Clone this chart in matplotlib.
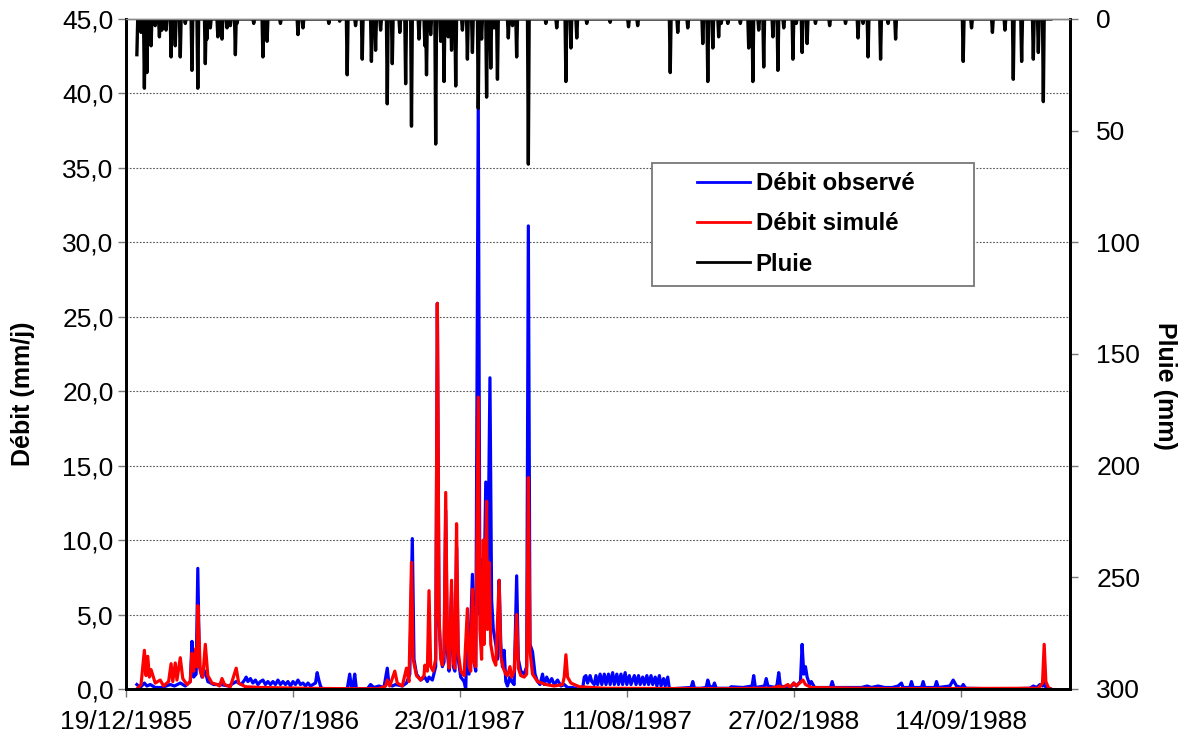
import numpy as np
import matplotlib
matplotlib.use("Agg")
import matplotlib.pyplot as plt
import matplotlib.dates as mdates
from matplotlib.patches import Rectangle
import datetime as dt

plt.rcParams['font.family'] = ['Liberation Sans', 'DejaVu Sans']

# days counted from 01/01/1986
start = dt.date(1986, 1, 1)
n_days = 1096

# simulated discharge (mm/j)
sim_day = [0, 5, 9, 11, 13, 15, 17, 22, 28, 32, 38, 41, 43, 46, 48, 52, 55, 60, 64, 66, 68, 71, 72, 73, 76, 79,
           82, 85, 90, 96, 99, 102, 105, 112, 119, 122, 130, 150, 200, 250, 290, 298, 300, 303, 309, 312, 318,
           323, 326, 329, 331, 335, 340, 344, 345, 348, 350, 352, 355, 358, 360, 362, 364, 366, 368, 370, 372,
           374, 377, 379, 381, 383, 385, 388, 392, 396, 398, 400, 402, 404, 406, 409, 411, 413, 415, 416, 419,
           420, 422, 424, 427, 430, 434, 436, 439, 442, 444, 447, 449, 452, 455, 457, 460, 464, 467, 469, 471,
           474, 480, 490, 500, 510, 512, 514, 516, 520, 530, 560, 700, 760, 770, 772, 780, 782, 787, 790, 798,
           801, 808, 900, 1080, 1085, 1087, 1089, 1092, 1095]
sim_q = [0.0, 0.3, 2.6, 0.9, 2.2, 0.8, 1.3, 0.4, 0.6, 0.2, 0.5, 1.7, 0.5, 1.75, 0.6, 2.1, 0.7, 0.3, 0.5, 2.4, 1.2,
         2.75, 1.5, 5.6, 1.2, 0.8, 3.0, 0.9, 0.4, 0.3, 0.2, 0.7, 0.3, 0.15, 1.4, 0.4, 0.15, 0.1, 0.05, 0.02, 0.02,
         0.2, 0.6, 0.2, 1.2, 0.4, 0.2, 1.4, 0.5, 8.5, 2.0, 0.9, 0.6, 0.9, 1.6, 1.2, 6.6, 1.5, 1.2, 2.0, 25.9, 5.0,
         2.0, 1.6, 2.5, 13.2, 3.0, 1.4, 7.3, 1.8, 1.4, 11.1, 2.5, 1.2, 0.9, 5.4, 1.5, 1.2, 6.7, 1.8, 1.5, 19.6,
         4.0, 2.0, 10.0, 3.0, 12.6, 4.0, 8.5, 3.0, 2.0, 1.6, 7.3, 2.2, 1.4, 1.0, 0.9, 1.5, 0.8, 1.2, 5.0, 1.4, 0.9,
         0.8, 1.0, 14.2, 2.5, 1.0, 0.5, 0.3, 0.2, 0.3, 0.8, 2.3, 0.8, 0.4, 0.15, 0.05, 0.02, 0.05, 0.2, 0.05, 0.3,
         0.1, 0.4, 0.2, 0.6, 0.3, 0.1, 0.02, 0.05, 0.4, 3.0, 0.5, 0.1, 0.0]

# observed discharge (mm/j)
obs_day = [0, 4, 9, 12, 16, 22, 30, 40, 45, 52, 58, 64, 66, 68, 71, 73, 75, 78, 82, 85, 92, 100, 110, 119, 125,
           129, 131, 133, 136, 139, 142, 145, 148, 151, 154, 157, 160, 163, 166, 169, 172, 175, 178, 181, 184,
           187, 190, 193, 196, 199, 202, 205, 208, 211, 214, 216, 218, 220, 222, 252, 255, 257, 259, 261, 263,
           276, 280, 284, 290, 296, 300, 302, 306, 310, 318, 323, 327, 330, 332, 335, 340, 345, 348, 350, 354,
           358, 360, 362, 364, 366, 368, 370, 372, 374, 377, 379, 381, 383, 385, 388, 392, 394, 396, 398, 402,
           404, 406, 409, 411, 413, 415, 418, 420, 423, 425, 427, 430, 432, 434, 436, 438, 440, 442, 444, 447,
           449, 452, 455, 457, 460, 464, 467, 469, 471, 474, 477, 480, 483, 486, 488, 491, 494, 497, 500, 504,
           508, 512, 516, 522, 528, 534, 536, 538, 540, 543, 545, 548, 550, 552, 555, 557, 560, 562, 565, 567,
           570, 572, 575, 577, 580, 582, 585, 587, 590, 592, 596, 598, 601, 603, 606, 608, 611, 613, 616, 618,
           621, 623, 626, 628, 631, 633, 636, 638, 650, 664, 666, 668, 676, 682, 684, 686, 690, 692, 694, 710,
           712, 726, 737, 739, 741, 752, 754, 756, 765, 767, 769, 771, 780, 785, 787, 790, 795, 797, 799, 801,
           803, 806, 808, 812, 820, 831, 833, 835, 860, 868, 875, 880, 888, 896, 905, 912, 916, 918, 926, 928,
           930, 940, 942, 944, 956, 958, 960, 974, 978, 982, 988, 990, 993, 1040, 1070, 1074, 1078, 1082, 1085,
           1087, 1089, 1095]
obs_q = [0.3, 0.1, 0.4, 0.2, 0.3, 0.1, 0.1, 0.3, 0.2, 0.4, 0.2, 0.5, 3.2, 0.8, 1.0, 8.1, 1.5, 0.8, 1.2, 0.5, 0.3,
         0.3, 0.2, 0.5, 0.3, 0.6, 0.8, 0.5, 0.7, 0.4, 0.6, 0.3, 0.5, 0.6, 0.3, 0.5, 0.3, 0.5, 0.3, 0.6, 0.3, 0.5,
         0.3, 0.5, 0.2, 0.5, 0.3, 0.6, 0.3, 0.4, 0.2, 0.4, 0.2, 0.3, 0.4, 1.1, 0.6, 0.2, 0.0, 0.0, 1.0, 0.1, 0.2,
         1.0, 0.0, 0.0, 0.3, 0.1, 0.2, 0.1, 1.4, 0.3, 0.2, 0.3, 0.2, 0.4, 1.0, 10.1, 2.0, 1.0, 0.6, 0.8, 0.5,
         0.8, 0.6, 1.5, 25.9, 4.5, 2.5, 1.5, 1.8, 12.0, 2.5, 1.2, 6.5, 1.5, 1.2, 9.5, 2.0, 0.8, 0.5, 0.0, 4.5,
         1.0, 7.7, 1.8, 1.2, 39.5, 5.0, 8.7, 3.0, 13.9, 5.0, 20.9, 6.0, 4.0, 3.0, 2.0, 7.3, 3.0, 1.5, 2.6, 0.5,
         0.2, 0.8, 0.5, 0.3, 7.6, 2.0, 1.2, 1.0, 1.5, 31.1, 3.0, 2.5, 1.0, 0.5, 0.3, 1.0, 0.3, 0.8, 0.4, 0.7,
         0.3, 0.6, 0.2, 0.3, 0.1, 0.1, 0.0, 0.0, 0.8, 0.9, 0.4, 0.9, 0.5, 0.3, 0.9, 0.3, 1.0, 0.3, 1.0, 0.3, 1.0,
         0.3, 1.1, 0.3, 1.0, 0.3, 1.0, 0.3, 1.1, 0.3, 0.9, 0.3, 0.9, 0.3, 0.9, 0.3, 0.8, 0.3, 0.9, 0.3, 0.9,
         0.3, 0.8, 0.2, 0.9, 0.2, 0.7, 0.2, 0.8, 0.0, 0.05, 0.1, 0.5, 0.05, 0.05, 0.1, 0.6, 0.2, 0.1, 0.4, 0.05,
         0.05, 0.15, 0.1, 0.2, 0.9, 0.1, 0.2, 0.7, 0.2, 0.1, 0.3, 1.1, 0.2, 0.1, 0.2, 0.4, 0.2, 0.5, 3.0, 1.0,
         1.5, 0.8, 0.3, 0.5, 0.1, 0.1, 0.1, 0.5, 0.1, 0.1, 0.1, 0.2, 0.1, 0.2, 0.1, 0.1, 0.2, 0.4, 0.1, 0.1,
         0.5, 0.1, 0.1, 0.5, 0.1, 0.1, 0.5, 0.1, 0.2, 0.6, 0.2, 0.1, 0.3, 0.05, 0.0, 0.05, 0.2, 0.1, 0.3, 0.2,
         0.5, 0.1, 0.0]

# daily rainfall (mm), days without rain are 0
rain_day = [0, 9, 12, 17, 27, 35, 41, 46, 52, 66, 73, 82, 84, 97, 102, 108, 118, 120, 151, 156, 172, 193, 199,
            243, 252, 270, 281, 286, 300, 306, 322, 329, 345, 347, 358, 368, 377, 382, 396, 402, 409, 419, 424,
            432, 445, 455, 469, 503, 514, 520, 527, 539, 567, 589, 639, 648, 678, 684, 690, 697, 708, 723, 733,
            738, 751, 762, 768, 786, 797, 803, 813, 849, 864, 876, 891, 909, 990, 1025, 1050, 1060, 1074, 1080,
            1086, 5, 22, 30, 58, 88, 112, 140, 230, 262, 292, 315, 338, 352, 364, 373, 390, 413, 428, 450, 490,
            600, 660, 700, 745, 775, 790, 830, 870, 900, 1000, 1040, 1065]
rain_mm = [16, 31, 24, 12, 8, 5, 17, 12, 17, 23, 31, 20, 9, 8, 9, 4, 16, 2, 17, 10, 2, 7, 4,
           1, 25, 18, 19, 14, 38, 20, 29, 48, 12, 25, 56, 28, 14, 30, 18, 15, 40, 35, 22,
           27, 8.5, 17, 65, 4, 28, 13, 8.5, 2, 1.5, 3.5, 24, 6, 11, 28, 13, 8, 2, 2, 13,
           28, 21.5, 8, 23, 18, 15, 11, 2, 2, 8.5, 17, 18, 9, 19, 6, 27, 19, 18, 15,
           37, 6, 3, 5, 2, 4, 3, 2, 2, 3, 5, 6, 9, 7, 10, 8, 5, 9, 4, 3,
           2, 3, 4, 2, 5, 4, 2, 3, 2, 2, 4, 5]

dates = [start + dt.timedelta(days=i) for i in range(n_days)]
rain = np.zeros(n_days)
for d, v in zip(rain_day, rain_mm):
    rain[d] = v
obs_dates = [start + dt.timedelta(days=d) for d in obs_day]
sim_dates = [start + dt.timedelta(days=d) for d in sim_day]

fig = plt.figure(figsize=(11.9, 7.38), dpi=100)
ax = fig.add_axes([0.1059, 0.0664, 0.7933, 0.9079])
ax2 = ax.twinx()

l1, = ax.plot(obs_dates, obs_q, color='#0000ff', lw=2.3, label='Débit observé')
l2, = ax.plot(sim_dates, sim_q, color='#ff0000', lw=2.3, label='Débit simulé')
l3, = ax2.plot(dates, rain, color='black', lw=2.4, label='Pluie')

ax.set_ylim(0, 45)
ax.set_yticks(np.arange(0, 46, 5))
ax.set_yticklabels([f"{v:.1f}".replace('.', ',') for v in np.arange(0, 46, 5)])
ax2.set_ylim(300, 0)
ax2.set_yticks(np.arange(0, 301, 50))

x0 = dt.date(1985, 12, 19)
ax.set_xlim(x0, dt.date(1989, 1, 23))
ticks = [x0 + dt.timedelta(days=200 * k) for k in range(6)]
ax.set_xticks(ticks)
ax.xaxis.set_major_formatter(mdates.DateFormatter('%d/%m/%Y'))

ax.grid(axis='y', linestyle=(0, (1.5, 1.5)), color='#555555', lw=0.8)
ax.set_axisbelow(True)

for a in (ax, ax2):
    a.tick_params(axis='both', labelsize=19, direction='out', length=6, width=1, color='#777777')
    a.spines['top'].set_color('#888888')
    a.spines['top'].set_linewidth(1)
    for s in ('left', 'right', 'bottom'):
        a.spines[s].set_linewidth(2)
        a.spines[s].set_color('black')
ax.tick_params(axis='x', pad=9)
ax.tick_params(axis='y', pad=3)
ax2.tick_params(axis='y', pad=13)

ax.set_ylabel('Débit (mm/j)', fontsize=18, fontweight='bold')
ax.yaxis.set_label_coords(-0.0964, 0.44)
ax2.set_ylabel('Pluie (mm)', fontsize=18, fontweight='bold', rotation=270, va='center')
ax2.yaxis.set_label_coords(1.1006, 0.452)

# legend box
fig.patches.append(Rectangle((652 / 1190, 1 - 286 / 738), 322 / 1190, 123 / 738,
                             transform=fig.transFigure, facecolor='white', edgecolor='#777777',
                             lw=1.3, zorder=5))
leg = fig.legend(handles=[l1, l2, l3], loc='upper left', bbox_to_anchor=(697 / 1190, 1 - 172 / 738),
                 prop={'size': 17.3, 'weight': 'bold'}, frameon=False, handlelength=2.2,
                 handletextpad=0.25, borderpad=0, labelspacing=0.72, borderaxespad=0)
leg.set_zorder(6)
for h in leg.get_lines():
    h.set_linewidth(2)

fig.savefig('out.png', dpi=100)
